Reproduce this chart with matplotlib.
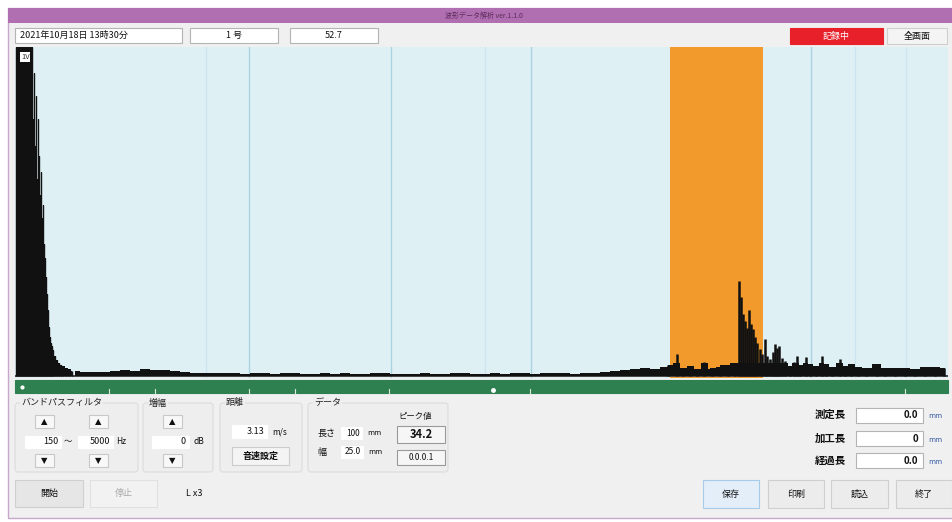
import matplotlib
matplotlib.use("Agg")
import matplotlib.pyplot as plt
from matplotlib.patches import Rectangle, FancyBboxPatch
import numpy as np

plt.rcParams['font.family'] = ['Noto Sans CJK JP', 'DejaVu Sans']

# Waveform envelope (amplitude in % of full scale, position in samples)
burst_pos = [1, 2, 3, 4, 5, 6, 7, 8, 9, 10, 11, 12, 13, 14, 15, 16, 17,
             18, 19, 20, 21, 22, 23, 24, 25, 26, 27, 28, 29, 30, 31, 32,
             33, 34, 35, 36, 37, 38, 40, 42, 44, 46, 48, 51, 54, 57]
burst_amp = [100, 100, 100, 100, 100, 100, 100, 100, 100, 100, 100, 100, 100, 100, 100, 100, 100,
             78, 92, 70, 85, 60, 78, 67, 55, 62, 48, 52, 40, 36, 30, 25,
             20, 15, 12, 10, 9, 8, 6, 5, 4, 3.5, 3, 2.5, 2, 1.6]

floor_start = 60
floor_step = 10
floor_amp = [1.4, 1.2, 1.1, 1.3, 1.6, 1.9, 1.5, 2.0, 1.7, 1.8, 1.4, 1.2, 1.0, 0.9, 0.8, 1.0,
             0.8, 0.7, 0.9, 0.8, 0.7, 0.8, 1.0, 0.7, 0.6, 0.8, 0.7, 0.9, 0.7, 0.6, 0.8, 0.9,
             0.7, 0.6, 0.7, 0.8, 0.6, 0.7, 0.9, 0.8, 0.7, 0.6, 0.8, 0.7, 0.9, 0.8, 0.7, 0.8,
             0.9, 0.8, 0.7, 0.9, 1.0, 1.2, 1.5, 1.9, 2.2, 2.5, 2.2, 2.6, 2.4, 2.0, 2.2, 2.1,
             2.5, 3.2, 4.0, 3.6, 3.2, 2.8, 3.0, 2.6, 2.8, 2.4, 2.6, 2.2, 2.4, 2.2, 2.3, 2.1,
             2.4, 2.2, 2.3, 2.5, 2.2, 2.4, 2.6, 2.5]

peak_pos = [653, 662, 668, 675, 682, 689, 697, 705, 713, 720, 724, 726, 728, 730, 732,
            734, 736, 738, 740, 742, 745, 747, 750, 752, 755, 758, 760, 762, 764, 767,
            770, 775, 779, 782, 785, 791, 795, 801, 807, 811, 817, 825, 830, 836, 843,
            851, 862, 870, 880, 890, 900, 910, 920, 929]
peak_amp = [3.3, 6.7, 2.4, 3.0, 2.1, 4.2, 2.1, 2.7, 2.4, 3.6, 28.8, 23.9, 18.8, 16.7, 14.5,
            20.0, 15.8, 14.2, 11.8, 10.0, 8.2, 6.7, 11.2, 6.0, 5.2, 7.3, 9.7, 8.5, 9.1, 5.5,
            4.5, 3.0, 4.2, 6.1, 3.3, 5.8, 3.6, 3.0, 6.1, 3.6, 2.7, 5.2, 3.0, 3.6, 2.7,
            2.4, 3.6, 2.4, 2.1, 2.4, 2.1, 2.7, 2.4, 2.4]

gate_range = (655, 748)
grid_major = [234, 376, 516, 796]
grid_minor = [191, 470, 840, 891]

W, H = 952, 522
fig = plt.figure(figsize=(W / 100, H / 100), dpi=100)
fig.patch.set_facecolor('white')

ui = fig.add_axes([0, 0, 1, 1])
ui.set_xlim(0, W)
ui.set_ylim(H, 0)
ui.axis('off')

FACE = '#f0f0f0'
EDGE = '#b4b4b4'


def rect(x0, y0, x1, y1, fc='white', ec=EDGE, lw=0.8, z=1):
    ui.add_patch(Rectangle((x0, y0), x1 - x0, y1 - y0, fc=fc, ec=ec, lw=lw, zorder=z))


def group(x0, y0, x1, y1, title):
    ui.add_patch(FancyBboxPatch((x0, y0), x1 - x0, y1 - y0,
                                boxstyle='round,pad=0,rounding_size=3',
                                fc='#eeeeee', ec='#dcdcdc', lw=0.8, zorder=1))
    ui.text(x0 + 6, y0, title, fontsize=6.5, va='center', ha='left', color='#222222',
            bbox=dict(fc='#eeeeee', ec='none', pad=0.5), zorder=3)


def label(x, y, s, size=6.5, ha='left', **kw):
    ui.text(x, y, s, fontsize=size, ha=ha, va='center', color=kw.pop('color', '#111111'),
            zorder=4, **kw)


def arrow_btn(x0, y0, x1, y1, up=True):
    rect(x0, y0, x1, y1, fc='#f8f8f8', ec='#c8c8c8')
    label((x0 + x1) / 2, (y0 + y1) / 2, '▲' if up else '▼', size=6, ha='center',
          family=['DejaVu Sans'])


# window frame
rect(8, 8, W + 2, 518, fc=FACE, ec='#c9a6cc', lw=1.0, z=0)
rect(8, 8, W + 2, 23, fc='#b06fb0', ec='none', z=1)
label(484, 15.5, '波形データ解析 ver.1.1.0', size=5, ha='center', color='#5a2a5a')

# header row
rect(15, 28, 182, 43)
label(20, 35.5, '2021年10月18日 13時30分', size=6.5)
rect(190, 28, 278, 43)
label(234, 35.5, '1 号', size=6.5, ha='center')
rect(290, 28, 378, 43)
label(334, 35.5, '52.7', size=6.5, ha='center')
rect(790, 28, 883, 44, fc='#e8202a', ec='#e8202a')
label(836, 36, '記録中', size=6.5, ha='center', color='white')
rect(887, 28, 947, 44, fc='#f4f4f4', ec='#cfcfcf')
label(917, 36, '全画面', size=6.5, ha='center')

# waveform axes
ax = fig.add_axes([15 / W, (H - 378) / H, 933 / W, 331 / H])
ax.set_facecolor('#dff0f4')
ax.set_xlim(0, 933)
ax.set_ylim(-0.6, 100)
for s in ax.spines.values():
    s.set_visible(False)
ax.set_xticks([])
ax.set_yticks([])
for g in grid_major:
    ax.axvline(g, color='#a9d3e0', lw=1.0, zorder=1)
for g in grid_minor:
    ax.axvline(g, color='#cbe5ee', lw=0.9, zorder=1)
ax.axvspan(*gate_range, color='#f29a2c', lw=0, zorder=2)
ax.axhline(0, color='#444444', lw=1.4, zorder=3)

wave = '#111111'
floor_pos = floor_start + floor_step * np.arange(len(floor_amp))
ax.fill_between(floor_pos, 0, floor_amp, step='mid', color=wave, lw=0, zorder=4)
ax.fill_between(burst_pos, 0, burst_amp, step='mid', color=wave, lw=0, zorder=4)
ax.vlines(burst_pos, 0, burst_amp, color=wave, lw=1.0, zorder=4)
ax.vlines(peak_pos, 0, peak_amp, color=wave, lw=1.8, zorder=4)
ax.fill_between(peak_pos, 0, np.minimum(peak_amp, 4), step='mid', color=wave, lw=0, zorder=4)

ax.text(6, 97, '1V', fontsize=5.5, color='#333333', va='center', ha='left',
        bbox=dict(fc='white', ec='none', pad=0.6), zorder=5)

# controls inside plot
label(712, 61, '表示範囲', size=6, bbox=dict(fc='white', ec='none', pad=0.5))
rect(763, 55, 802, 67, fc='#f4f4f4', ec='#bdbdbd', z=5)
label(797, 61, '▾', size=5, ha='center', family=['DejaVu Sans'])
rect(815, 57, 822, 64, fc='white', ec='#888888', z=5)
label(826, 61, 'ピーク保持', size=6)
rect(900, 57, 907, 64, fc='white', ec='#888888', z=5)
label(910, 61, '一時停止', size=6)

# position slider
rect(15, 380, 948, 393, fc='#2f8050', ec='#2f8050', z=2)
for t in [109, 155, 249, 295, 389, 530, 905]:
    ui.plot([t, t], [389, 393], color='#d8e8dc', lw=0.8, zorder=3)
ui.plot([22], [387], marker='o', ms=2, color='white', zorder=3)
ui.plot([493], [390], marker='o', ms=2.5, color='white', zorder=3)

# band-pass filter
group(15, 403, 138, 472, 'バンドパスフィルタ')
arrow_btn(35, 415, 54, 428)
arrow_btn(89, 415, 108, 428)
rect(25, 436, 61, 448, ec='white')
label(58, 442, '150', ha='right')
label(64, 442, '～', size=6)
rect(78, 436, 113, 448, ec='white')
label(110, 442, '5000', ha='right')
label(116, 442, 'Hz', size=6)
arrow_btn(35, 454, 54, 467, up=False)
arrow_btn(89, 454, 108, 467, up=False)

# gain
group(143, 403, 213, 472, '増幅')
arrow_btn(163, 415, 182, 428)
rect(152, 436, 189, 448, ec='white')
label(186, 442, '0', ha='right')
label(193, 442, 'dB', size=6)
arrow_btn(163, 454, 182, 467, up=False)

# distance
group(220, 403, 302, 472, '距離')
rect(232, 425, 267, 438, ec='white')
label(264, 431.5, '3.13', ha='right')
label(272, 431.5, 'm/s', size=6)
rect(232, 447, 289, 465, fc='#f4f4f4', ec='#cccccc')
label(260.5, 456, '音速設定', size=6.5, ha='center', weight='bold')

# data
group(308, 403, 448, 472, 'データ')
label(317, 433, '長さ')
rect(341, 427, 362, 439, ec='white')
label(360, 433, '100', size=6, ha='right')
label(367, 433, 'mm', size=5.5)
label(317, 452, '幅')
rect(341, 446, 363, 458, ec='white')
label(361, 452, '25.0', size=6, ha='right')
label(368, 452, 'mm', size=5.5)
label(398, 417, 'ピーク値', size=6)
rect(397, 426, 445, 443, fc='#f6f6f6', ec='#9a9a9a')
label(421, 434.5, '34.2', size=8, ha='center', weight='bold')
rect(397, 450, 445, 465, fc='#f6f6f6', ec='#9a9a9a')
label(421, 457.5, '0.0.0.1', size=6, ha='center')

# start / stop
rect(15, 480, 83, 507, fc='#e6e6e6', ec='#cfcfcf')
label(49, 493.5, '開始', ha='center')
rect(90, 480, 157, 507, fc='#f2f2f2', ec='#e0e0e0')
label(123.5, 493.5, '停止', ha='center', color='#aaaaaa')
label(186, 493, 'L x3', size=6.5)

# measured lengths
for y, name, val in [(415, '測定長', '0.0'), (438.5, '加工長', '0'), (460.5, '経過長', '0.0')]:
    label(846, y, name, size=7.5, ha='right', weight='bold')
    rect(856, y - 7.5, 923, y + 7.5)
    label(918, y, val, size=7, ha='right', weight='bold')
    label(928, y + 1, 'mm', size=5.5, color='#3a5fa8')

# bottom buttons
rect(703, 480, 759, 508, fc='#e3eef9', ec='#a9cbea')
label(731, 494, '保存', ha='center')
for x0, x1, s in [(768, 824, '印刷'), (831, 888, '読込'), (896, 952, '終了')]:
    rect(x0, 480, x1, 508, fc='#ececec', ec='#cfcfcf')
    label((x0 + x1) / 2, 494, s, ha='center')

fig.savefig('out.png', dpi=100, facecolor=fig.get_facecolor())
